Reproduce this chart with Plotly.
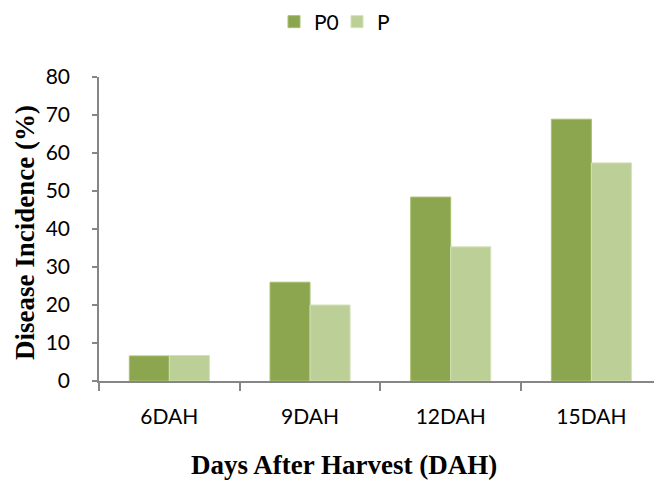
import plotly.graph_objects as go

# Disease incidence (%) by days after harvest
categories = ["6DAH", "9DAH", "12DAH", "15DAH"]
p0_values = [6.6, 26.0, 48.4, 68.9]
p_values = [6.7, 20.0, 35.3, 57.4]
y_ticks = [0, 10, 20, 30, 40, 50, 60, 70, 80]

W, H = 654, 481
L, R, T, B = 99, 0, 77, 100
pw, ph = W - L - R, H - T - B

tick_font = dict(family="Lato, 'Open Sans', sans-serif", size=21, color="#000000")
serif = "'Liberation Serif', 'Times New Roman', serif"
axis_grey = "#868686"

fig = go.Figure()
fig.add_trace(go.Bar(
    name="P0", x=categories, y=p0_values,
    marker=dict(color="#8BA64F", line=dict(color="#A9C06E", width=1)),
))
fig.add_trace(go.Bar(
    name="P", x=categories, y=p_values,
    marker=dict(color="#BBCF96", line=dict(color="#D3E1B9", width=1)),
))

fig.update_layout(
    width=W, height=H,
    margin=dict(l=L, r=R, t=T, b=B, autoexpand=False),
    paper_bgcolor="white", plot_bgcolor="white",
    barmode="group", bargap=0.431, bargroupgap=0,
    showlegend=True,
    legend=dict(
        orientation="h", x=(274 - L) / pw, xref="paper", xanchor="left",
        y=1 - 22 / H, yref="container", yanchor="middle",
        font=tick_font, entrywidth=18, entrywidthmode="pixels",
        traceorder="normal",
    ),
    xaxis=dict(
        type="category", range=[-0.5, 3.445],
        showline=True, linecolor=axis_grey, linewidth=1.5,
        ticks="outside", tickson="boundaries", ticklen=8,
        tickcolor=axis_grey, tickwidth=1.5,
        tickfont=tick_font, showgrid=False, zeroline=False,
        ticklabelstandoff=16,
    ),
    yaxis=dict(
        range=[0, 80], tickvals=y_ticks,
        showline=True, linecolor=axis_grey, linewidth=1.5,
        ticks="outside", ticklen=5, tickcolor=axis_grey, tickwidth=1.5,
        tickfont=tick_font, showgrid=False, zeroline=False,
        ticklabelstandoff=18,
    ),
    annotations=[
        # x-axis title
        dict(text="<b>Days After Harvest (DAH)</b>", showarrow=False,
             font=dict(family=serif, size=27, color="#000000"),
             xref="paper", yref="paper",
             x=(344 - L) / pw, y=(H - 465 - B) / ph,
             xanchor="center", yanchor="middle"),
        # y-axis title
        dict(text="<b>Disease Incidence (%)</b>", showarrow=False,
             font=dict(family=serif, size=27, color="#000000"),
             textangle=-90, xref="paper", yref="paper",
             x=(25 - L) / pw, y=(H - 233 - B) / ph,
             xanchor="center", yanchor="middle"),
    ],
)

fig.write_html("out.html")
